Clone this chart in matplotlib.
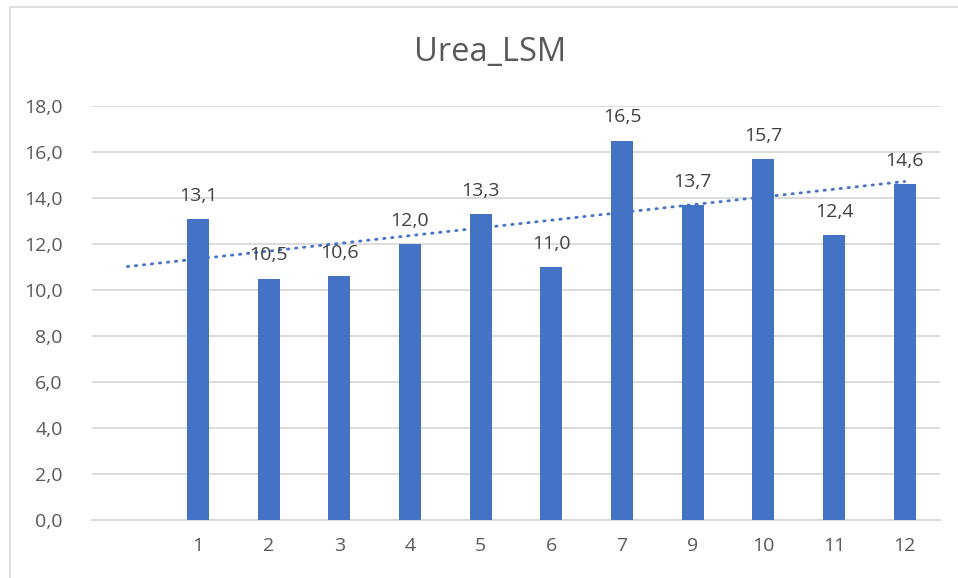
import numpy as np
import matplotlib.pyplot as plt
from matplotlib.patches import Rectangle

# data
categories = ['', '1', '2', '3', '4', '5', '6', '7', '9', '10', '11', '12']
values = [np.nan, 13.1, 10.5, 10.6, 12.0, 13.3, 11.0, 16.5, 13.7, 15.7, 12.4, 14.6]
y_ticks = [0, 2, 4, 6, 8, 10, 12, 14, 16, 18]

bar_color = '#4472C4'
text_color = '#595959'
grid_color = '#d9d9d9'

plt.rcParams['font.family'] = ['Open Sans', 'DejaVu Sans']

fig = plt.figure(figsize=(9.58, 5.78), dpi=100)
ax = fig.add_axes([92/958, 1 - 520/578, (940-92)/958, (520-106)/578])

# chart area frame (only left/top edges visible in the crop)
fig.patches.append(Rectangle((10/958, -0.1), 1.2, 1 - 7/578 + 0.1,
                             transform=fig.transFigure, fill=False,
                             edgecolor=grid_color, linewidth=1.2))

x = np.arange(len(categories))
vals = np.array(values, dtype=float)
ax.bar(x, vals, width=0.31, color=bar_color, zorder=3)

# data labels
for xi, v in zip(x, vals):
    if np.isnan(v):
        continue
    ax.annotate(f'{v:.1f}'.replace('.', ','), (xi, v), xytext=(0, 13),
                textcoords='offset points', ha='center', va='baseline',
                fontsize=14, color='#404040', zorder=5)

# linear trendline
mask = ~np.isnan(vals)
k, b = np.polyfit(x[mask], vals[mask], 1)
xt = np.array([x[0], x[-1]])
ax.plot(xt, k * xt + b, color=bar_color, linewidth=2,
        linestyle=(0, (0.5, 2.4)), dash_capstyle='round', zorder=4)

ax.set_xlim(-0.5, len(categories) - 0.5)
ax.set_ylim(0, 18)
ax.set_yticks(y_ticks)
ax.set_yticklabels([f'{t:.1f}'.replace('.', ',') for t in y_ticks])
ax.set_xticks(x)
ax.set_xticklabels(categories)
ax.tick_params(axis='both', length=0, labelsize=14, labelcolor=text_color)
ax.tick_params(axis='y', pad=21)
ax.tick_params(axis='x', pad=12)

ax.grid(axis='y', color=grid_color, linewidth=1.3, zorder=0)
ax.set_axisbelow(True)
for side in ['top', 'right', 'left']:
    ax.spines[side].set_visible(False)
ax.spines['bottom'].set_color(grid_color)
ax.spines['bottom'].set_linewidth(1.3)

fig.text(490/958, 1 - 52/578, 'Urea_LSM', ha='center', va='center',
         fontsize=23.5, color=text_color)

fig.savefig('out.png', dpi=100)
